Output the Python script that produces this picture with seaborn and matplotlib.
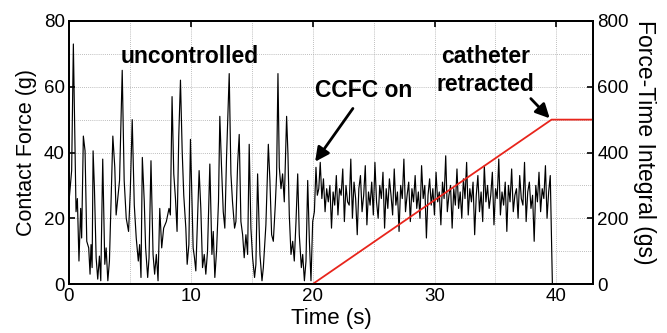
import numpy as np
import pandas as pd
import matplotlib
matplotlib.use("Agg")
import matplotlib.pyplot as plt
import seaborn as sns
from matplotlib.ticker import MultipleLocator

# ---------------- data ----------------
# uncontrolled phase: turning points (time s, force g)
t_unctrl = [0.00, 0.22, 0.36, 0.58, 0.69, 0.82, 0.96, 1.04, 1.18, 1.32, 1.46, 1.62, 1.73, 1.81, 1.90,
            1.98, 2.09, 2.23, 2.36, 2.50, 2.61, 2.77, 2.94, 3.05, 3.19, 3.32, 3.60, 3.76, 3.87, 3.98,
            4.15, 4.37, 4.53, 4.70, 4.89, 5.03, 5.19, 5.36, 5.52, 5.69, 5.80, 5.91, 6.02, 6.18, 6.29,
            6.46, 6.57, 6.73, 6.90, 7.03, 7.17, 7.31, 7.45, 7.61, 7.77, 7.99, 8.21, 8.32, 8.46, 8.60,
            8.74, 8.87, 9.01, 9.15, 9.29, 9.42, 9.59, 9.70, 9.84, 9.97,
            10.19, 10.30, 10.41, 10.55, 10.68, 10.82, 10.96, 11.10, 11.23, 11.37, 11.56, 11.73, 11.84,
            11.97, 12.11, 12.27, 12.38, 12.52, 12.66, 12.79, 12.93, 13.15, 13.29, 13.42, 13.59, 13.70,
            13.84, 13.97, 14.11, 14.25, 14.38, 14.52, 14.66, 14.79, 14.93, 15.07, 15.23, 15.34, 15.48,
            15.67, 15.84, 15.95, 16.16, 16.36, 16.49, 16.63, 16.77, 16.93, 17.04, 17.15, 17.26, 17.40,
            17.53, 17.67, 17.86, 17.97, 18.08, 18.22, 18.36, 18.49, 18.63, 18.77, 18.90, 19.07, 19.18,
            19.32, 19.45, 19.59, 19.73, 19.86, 20.00, 20.14, 20.27, 20.38, 20.50]
f_unctrl = [25, 34.5, 73, 22, 26, 7, 23, 14, 45, 40.5, 13, 11, 3, 12, 5,
            40.5, 29, 8, 1.5, 8.5, 1, 38, 6, 11, 1, 7, 45, 35.5, 21, 25,
            31.5, 65, 31.5, 20, 16, 28, 50, 24, 14, 7, 12, 2, 38.5, 25, 11,
            2, 8, 37.5, 9, 3, 9, 1, 23, 11, 17, 19, 23, 21, 57, 33.5,
            26, 16, 45, 62, 40.5, 27, 17, 6, 12, 44,
            11, 8, 4, 20, 34.5, 23, 5, 9, 3, 10, 36.5, 9, 16,
            2, 10, 25, 51, 35.5, 22, 17, 38.5, 64, 33.5, 25, 17, 19,
            36.5, 45.5, 19, 15, 8, 15, 9, 42.5, 17, 8, 2, 6, 33.5,
            9, 1, 5, 18, 42.5, 31.5, 15, 13, 24, 33.5, 64, 35.5, 29,
            33.5, 25, 51, 39.5, 21, 9, 13, 7, 19, 33.5, 15, 5, 9,
            1, 7, 31.5, 13, 1, 19, 22, 35.5, 27, 29]

ctrl_start, ctrl_step = 20.62, 0.132
f_ctrl = [37, 26, 32, 22, 29, 25, 30, 17, 28, 24, 33, 21, 29, 27, 35, 19, 30, 25,
          24, 38, 20, 31, 26, 15, 29, 33, 22, 27, 36, 18, 28, 24, 31, 21, 37, 25,
          20, 30, 26, 34, 17, 29, 23, 32, 27, 21, 35, 24, 28, 16, 30, 26, 38, 22,
          27, 31, 19, 29, 25, 33, 23, 28, 20, 36, 26, 30, 14, 27, 32, 24, 29, 21,
          34, 25, 28, 18, 31, 26, 39, 22, 27, 30, 17, 29, 24, 35, 23, 28, 20, 32,
          26, 37, 21, 29, 25, 31, 15, 27, 33, 22, 28, 19, 36, 25, 30, 23, 27, 34,
          18, 29, 26, 38, 21, 28, 24, 31, 16, 30, 25, 35, 22, 27, 29, 20, 33, 26,
          24, 37, 19, 28, 31, 23, 27, 13, 30, 25, 34, 22, 29, 26, 36, 20, 28, 33]
# retraction: force drops to zero
t_end = [39.67, 43.0]
f_end = [0, 0]

# force-time integral (g s)
t_fti = [20.0, 39.6, 43.0]
v_fti = [0, 500, 500]

# ---------------- build ----------------
t_ctrl = [ctrl_start + i * ctrl_step for i in range(len(f_ctrl))]
df = pd.DataFrame({"t": t_unctrl + t_ctrl + t_end, "f": f_unctrl + f_ctrl + f_end})
df_fti = pd.DataFrame({"t": t_fti, "v": v_fti})

sns.set_theme(style="white")
plt.rcParams["font.family"] = ["Liberation Sans", "DejaVu Sans"]

fig = plt.figure(figsize=(6.67, 3.33), dpi=100)
ax = fig.add_axes([0.1034, 0.147, 0.7856, 0.79])
ax2 = ax.twinx()

sns.lineplot(data=df, x="t", y="f", ax=ax, color="black", lw=0.85,
             estimator=None, sort=False)
sns.lineplot(data=df_fti, x="t", y="v", ax=ax2, color="#e8251c", lw=1.3,
             estimator=None, sort=False)

ax.set_xlim(0, 43)
ax.set_ylim(0, 80)
ax2.set_ylim(0, 800)

ax.xaxis.set_major_locator(MultipleLocator(10))
ax.xaxis.set_minor_locator(MultipleLocator(5))
ax.yaxis.set_major_locator(MultipleLocator(20))
ax.yaxis.set_minor_locator(MultipleLocator(10))
ax2.yaxis.set_major_locator(MultipleLocator(200))
ax2.yaxis.set_minor_locator(MultipleLocator(100))

ax.grid(True, which="both", linestyle=(0, (1, 1.5)), color="#a8a8a8", lw=0.6)
ax2.grid(False)

for a in (ax, ax2):
    for s in a.spines.values():
        s.set_color("black")
        s.set_linewidth(1.3)
ax.tick_params(axis="both", which="major", direction="in", length=4, width=1.2,
               labelsize=13.5, colors="black", top=True, pad=3)
ax.tick_params(axis="both", which="minor", direction="in", length=0)
ax2.tick_params(axis="y", which="major", direction="in", length=4, width=1.2,
                labelsize=13.5, colors="black", pad=3)
ax2.tick_params(axis="y", which="minor", length=0)

ax.set_xlabel("Time (s)", fontsize=16, color="black", labelpad=2)
ax.set_ylabel("Contact Force (g)", fontsize=15.5, color="black", labelpad=5)
ax2.set_ylabel("Force-Time Integral (gs)", fontsize=16.5, color="black",
               rotation=270, labelpad=22)
ax2.yaxis.set_label_coords(1.12, 0.54)

bold = dict(fontsize=16.5, fontweight="bold", color="black", ha="center", va="baseline")
ax.text(9.92, 67.2, "uncontrolled", **bold)
ax.text(24.16, 56.9, "CCFC on", **bold)
ax.text(34.16, 67.1, "catheter", **bold)
ax.text(34.16, 58.8, "retracted", **bold)

arrow = dict(arrowstyle="-|>,head_length=0.7,head_width=0.35", color="black", lw=2.0,
             shrinkA=0, shrinkB=0)
ax.annotate("", xy=(20.2, 37.2), xytext=(23.3, 53.4), arrowprops=arrow)
ax.annotate("", xy=(39.45, 50.4), xytext=(37.9, 56.4), arrowprops=arrow)

fig.savefig("out.png", dpi=100)
